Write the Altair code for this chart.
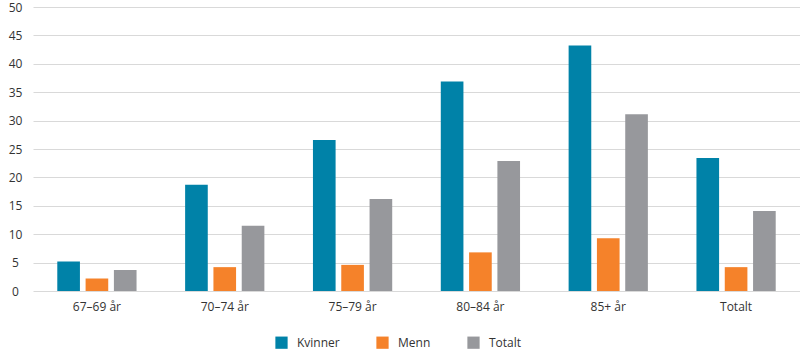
import altair as alt
import pandas as pd

categories = ["67–69 år", "70–74 år", "75–79 år", "80–84 år", "85+ år", "Totalt"]
series = ["Kvinner", "Menn", "Totalt"]
kvinner = [5.2, 18.7, 26.6, 36.9, 43.2, 23.4]
menn = [2.2, 4.2, 4.6, 6.8, 9.3, 4.2]
totalt = [3.7, 11.5, 16.2, 22.9, 31.1, 14.1]
colors = ["#0082A8", "#F5822A", "#97989C"]

rows = []
for name, vals in zip(series, [kvinner, menn, totalt]):
    for c, v in zip(categories, vals):
        rows.append({"kategori": c, "serie": name, "verdi": v})
df = pd.DataFrame(rows)

FONT = "Open Sans"

chart = (
    alt.Chart(df)
    .mark_bar()
    .encode(
        x=alt.X(
            "kategori:N",
            sort=categories,
            title=None,
            scale=alt.Scale(paddingInner=0.38, paddingOuter=0.19),
            axis=alt.Axis(
                labelAngle=0,
                ticks=False,
                domain=False,
                grid=False,
                labelPadding=10,
                labelFontSize=12,
                labelFont=FONT,
                labelColor="#333333",
            ),
        ),
        xOffset=alt.XOffset("serie:N", sort=series, scale=alt.Scale(paddingInner=0.2, paddingOuter=0)),
        y=alt.Y(
            "verdi:Q",
            title=None,
            scale=alt.Scale(domain=[0, 50], nice=False),
            axis=alt.Axis(
                values=list(range(0, 55, 5)),
                ticks=False,
                domain=False,
                grid=True,
                gridColor="#d9d9d9",
                gridWidth=1,
                labelPadding=18,
                labelAlign="center",
                labelFontSize=12,
                labelFont=FONT,
                labelColor="#333333",
            ),
        ),
        color=alt.Color(
            "serie:N",
            sort=series,
            scale=alt.Scale(domain=series, range=colors),
            legend=alt.Legend(
                title=None,
                orient="none",
                direction="horizontal",
                legendX=242,
                legendY=329,
                symbolType="square",
                symbolSize=150,
                symbolStrokeWidth=0,
                labelFontSize=12,
                labelFont=FONT,
                labelColor="#333333",
                labelOffset=9,
                columnPadding=36,
            ),
        ),
    )
    .properties(
        width=767,
        height=284,
        background="white",
        padding={"left": 33, "top": 7, "right": 0, "bottom": 61},
        autosize=alt.AutoSizeParams(type="none"),
    )
    .configure_view(strokeWidth=0, stroke="transparent")
)

chart.save("out.html", embed_options={"renderer": "svg", "actions": False})
